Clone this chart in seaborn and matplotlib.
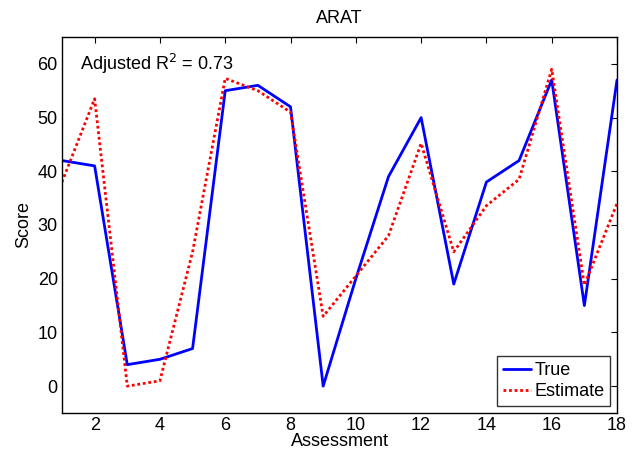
import numpy as np
import pandas as pd
import matplotlib
matplotlib.use("Agg")
import matplotlib.pyplot as plt
import seaborn as sns
from matplotlib.lines import Line2D

assessment = list(range(1, 19))
true_scores = [42, 41, 4, 5, 7, 55, 56, 52, 0, 20, 39, 50, 19, 38, 42, 57, 15, 57]
estimate_scores = [38, 53.5, 0, 1, 25, 57.3, 55, 51, 13, 20.5, 28, 45.2, 25, 33.6, 38.5, 59, 18.8, 34]
series_names = ["True", "Estimate"]
x_ticks = [2, 4, 6, 8, 10, 12, 14, 16, 18]
y_ticks = [0, 10, 20, 30, 40, 50, 60]

sns.set_style("white")
plt.rcParams['font.family'] = ['Liberation Sans', 'DejaVu Sans']
plt.rcParams['text.color'] = 'black'
plt.rcParams['axes.labelcolor'] = 'black'
plt.rcParams['xtick.color'] = 'black'
plt.rcParams['ytick.color'] = 'black'

df = pd.DataFrame({
    "Assessment": assessment * 2,
    "Score": true_scores + estimate_scores,
    "Series": [series_names[0]] * 18 + [series_names[1]] * 18,
})

FS = 13
fig = plt.figure(figsize=(6.39, 4.55), dpi=100)
ax = fig.add_axes([0.097, 0.0923, 0.8686, 0.8264])

sns.lineplot(data=df, x="Assessment", y="Score", hue="Series", style="Series",
             palette={"True": "#0000ff", "Estimate": "#ff0000"},
             dashes={"True": "", "Estimate": (1, 1)},
             linewidth=2.0, ax=ax, legend=False)

ax.set_xlim(1, 18)
ax.set_ylim(-5, 65)
ax.set_xticks(x_ticks)
ax.set_yticks(y_ticks)
ax.tick_params(direction="in", top=True, right=True, length=4.5, width=0.8,
               labelsize=FS, colors="black", labelcolor="black", pad=3)
for s in ax.spines.values():
    s.set_visible(True)
    s.set_color("black")
    s.set_linewidth(1.0)
ax.set_xlabel("Assessment", fontsize=FS, labelpad=-1, color="black")
ax.set_ylabel("Score", fontsize=FS, labelpad=4, color="black")
ax.set_title("ARAT", fontsize=FS, pad=10, color="black")

ax.text(1.55, 60, "Adjusted R$^2$ = 0.73", fontsize=FS, va="center", ha="left",
        color="black")

handles = [Line2D([], [], color="#0000ff", lw=2.0),
           Line2D([], [], color="#ff0000", lw=2.0, ls=(0, (1, 1)))]
leg = ax.legend(handles, series_names, loc="lower right", fontsize=FS,
                frameon=True, fancybox=False, edgecolor="black",
                borderaxespad=0.4, handlelength=1.55, handletextpad=0.2,
                borderpad=0.3, labelspacing=0.25, labelcolor="black")
leg.get_frame().set_linewidth(1.0)

fig.savefig("out.png", dpi=100, facecolor="white")
